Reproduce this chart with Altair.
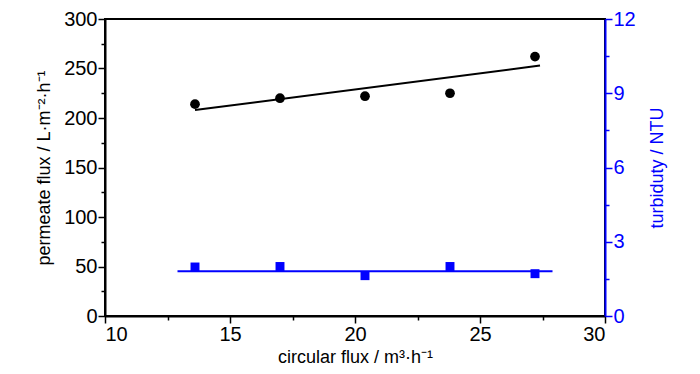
import altair as alt
import pandas as pd

circ_flux = [13.6, 17.0, 20.4, 23.8, 27.2]
perm_flux = [214, 220, 222, 225, 262]
turbidity = [1.98, 2.0, 1.63, 2.0, 1.71]

perm_fit_x = [13.6, 27.4]
perm_fit_y = [208, 253]
turb_fit_x = [12.9, 27.9]
turb_fit_y = [1.81, 1.81]

x_ticks = [10 + 2.5 * i for i in range(9)]
y_left_ticks = [25 * i for i in range(13)]
y_right_ticks = [1.5 * i for i in range(9)]

pts = pd.DataFrame({"x": circ_flux, "perm": perm_flux, "turb": turbidity})
fit_l = pd.DataFrame({"x": perm_fit_x, "perm": perm_fit_y})
fit_r = pd.DataFrame({"x": turb_fit_x, "turb": turb_fit_y})

FONT = "Liberation Sans, Arial"
BLUE = "#0000ff"

x_axis = alt.Axis(
    values=x_ticks,
    title="circular flux / m³·h⁻¹",
    labelExpr="datum.value % 5 === 0 ? datum.label : ''",
    tickSize={"condition": {"test": "datum.value % 5 === 0", "value": 7}, "value": 4},
    grid=False,
    domainColor="black", tickColor="black", labelColor="black", titleColor="black",
    domainWidth=2, tickWidth=1.5,
    labelFontSize=20, titleFontSize=18, labelFont=FONT, titleFont=FONT,
    labelPadding=1, titlePadding=4, titleFontWeight="normal",
)
x_enc = alt.X("x:Q", scale=alt.Scale(domain=[10, 30], nice=False, zero=False), axis=x_axis)

yl_axis = alt.Axis(
    values=y_left_ticks,
    title="permeate flux / L·m⁻²·h⁻¹",
    labelExpr="datum.value % 50 === 0 ? datum.label : ''",
    tickSize={"condition": {"test": "datum.value % 50 === 0", "value": 7}, "value": 4},
    grid=False, orient="left",
    domainColor="black", tickColor="black", labelColor="black", titleColor="black",
    domainWidth=2, tickWidth=1.5,
    labelFontSize=20, titleFontSize=18, labelFont=FONT, titleFont=FONT,
    labelPadding=1, titlePadding=10, titleFontWeight="normal",
)
yr_axis = alt.Axis(
    values=y_right_ticks,
    title="turbiduty / NTU",
    labelExpr="datum.value % 3 === 0 ? datum.label : ''",
    tickSize={"condition": {"test": "datum.value % 3 === 0", "value": 7}, "value": 4},
    grid=False, orient="right",
    domainColor=BLUE, tickColor=BLUE, labelColor=BLUE, titleColor=BLUE,
    domainWidth=2, tickWidth=1.5,
    labelFontSize=20, titleFontSize=18, labelFont=FONT, titleFont=FONT,
    labelPadding=1, titlePadding=31, titleFontWeight="normal", titleAngle=270,
)

yl = alt.Y("perm:Q", scale=alt.Scale(domain=[0, 300], nice=False), axis=yl_axis)
yr = alt.Y("turb:Q", scale=alt.Scale(domain=[0, 12], nice=False), axis=yr_axis)

left = alt.layer(
    alt.Chart(fit_l).mark_line(color="black", strokeWidth=2).encode(x=x_enc, y=yl),
    alt.Chart(pts).mark_point(shape="circle", filled=True, color="black", size=95, opacity=1).encode(x=x_enc, y=yl),
)
right = alt.layer(
    alt.Chart(fit_r).mark_line(color=BLUE, strokeWidth=2).encode(x=x_enc, y=yr),
    alt.Chart(pts).mark_point(shape="square", filled=True, color=BLUE, size=80, opacity=1).encode(x=x_enc, y=yr),
)

chart = (
    alt.layer(left, right)
    .resolve_scale(y="independent")
    .properties(
        width=500, height=297,
        autosize=alt.AutoSizeParams(type="none"),
        padding={"left": 97, "top": 11, "right": 87, "bottom": 50},
        background="white",
    )
    .configure_view(stroke="black", strokeWidth=2)
)

chart.save("out.html", embed_options={"renderer": "svg", "actions": False})
